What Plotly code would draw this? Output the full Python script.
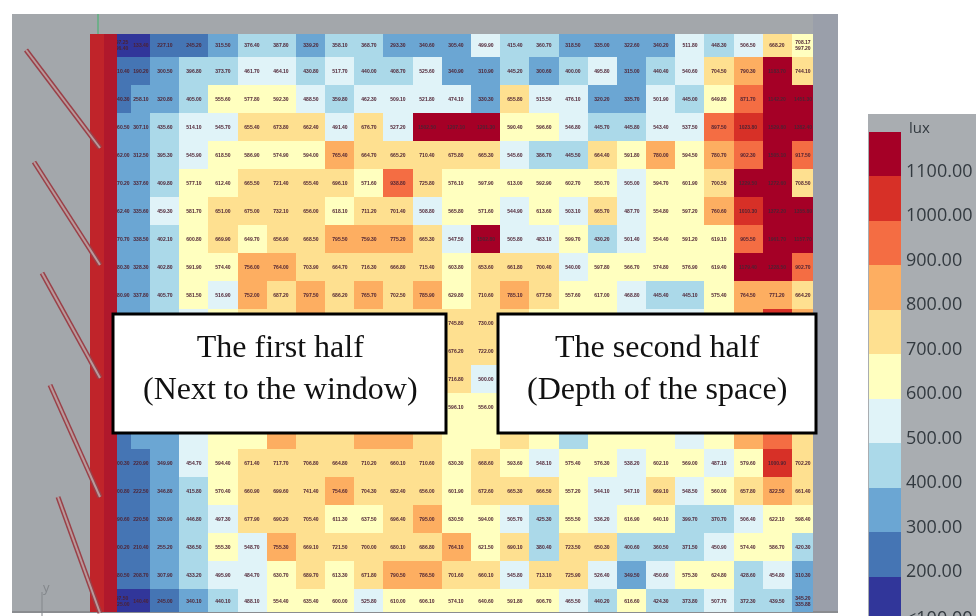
import numpy as np
import plotly.graph_objects as go

W, H = 976, 616

# illuminance grid (lux): rows run away from the top wall, columns run away from the window
row_00 = [97.25,133.4,227.1,245.2,315.5,376.4,387.8,339.2,358.1,368.7,293.3,340.6,305.4,499.9,415.4,360.7,318.5,335.0,322.6,340.2,511.8,448.3,506.5,668.2,597.2]
row_01 = [210.4,190.2,300.5,396.8,373.7,461.7,464.1,430.8,517.7,440.0,408.7,525.6,340.9,310.9,445.2,300.6,400.0,495.8,315.0,440.4,540.6,704.5,790.3,1183.7,744.1]
row_02 = [240.3,258.1,320.8,405.0,555.6,577.8,592.3,488.5,359.8,462.3,509.1,521.8,474.1,330.3,655.8,515.5,476.1,320.2,335.7,501.9,445.0,649.8,871.7,1142.2,1451.3]
row_03 = [260.5,307.1,435.6,514.1,545.7,655.4,673.8,662.4,491.4,676.7,527.2,1502.5,1207.1,1201.3,590.4,596.6,546.8,445.7,445.8,543.4,537.5,897.5,1023.8,1529.8,1382.4]
row_04 = [262.0,312.5,395.3,545.9,618.5,586.9,574.9,594.0,765.4,664.7,665.2,710.4,675.8,665.3,545.6,386.7,445.5,664.4,591.8,780.0,594.5,780.7,902.3,1505.1,917.5]
row_05 = [270.2,337.6,409.8,577.1,612.4,665.5,721.4,655.4,696.1,571.6,938.8,725.8,576.1,597.9,613.0,592.9,602.7,550.7,505.0,594.7,601.9,700.5,1229.5,1272.6,708.5]
row_06 = [262.4,335.6,459.3,581.7,651.0,675.0,732.1,656.0,618.1,711.2,701.4,508.8,565.8,571.6,544.9,613.6,503.1,665.7,487.7,554.8,597.2,760.6,1010.3,1372.2,1355.8]
row_07 = [270.7,338.5,402.1,600.8,669.9,649.7,656.9,668.5,795.5,759.3,775.2,665.3,547.5,1502.8,505.8,483.1,599.7,430.2,501.4,554.4,591.2,619.1,905.5,1961.7,1157.7]
row_08 = [280.3,328.3,402.8,591.9,574.4,756.0,764.0,703.9,664.7,716.3,666.8,715.4,603.8,653.6,661.8,700.4,540.0,597.8,566.7,574.8,576.9,619.4,1179.4,1228.5,902.7]
row_09 = [280.9,337.8,405.7,581.5,516.9,752.0,687.2,797.5,686.2,765.7,702.5,785.9,629.8,710.6,785.1,677.5,557.6,617.0,468.8,445.4,445.1,575.4,764.5,771.2,664.2]
row_10 = [250.0,300.0,390.0,500.0,600.0,720.0,690.0,760.0,700.0,720.0,680.0,700.0,745.8,730.0,700.0,640.0,560.0,600.0,520.0,500.0,520.0,620.0,800.0,1020.0,800.0]
row_11 = [240.0,290.0,380.0,490.0,600.0,700.0,710.0,740.0,720.0,700.0,690.0,690.0,676.2,722.0,690.0,620.0,570.0,590.0,540.0,520.0,530.0,610.0,780.0,950.0,760.0]
row_12 = [230.0,280.0,370.0,480.0,590.0,680.0,720.0,720.0,700.0,710.0,700.0,680.0,716.8,500.0,650.0,610.0,580.0,600.0,560.0,530.0,540.0,600.0,760.0,900.0,720.0]
row_13 = [220.0,270.0,350.0,475.0,590.0,660.0,760.0,710.0,700.0,760.0,740.0,670.0,596.1,556.0,660.0,610.0,500.0,590.0,580.0,560.0,530.0,600.0,770.0,900.0,700.0]
row_14 = [210.0,260.0,330.0,470.0,590.0,640.0,790.0,700.0,700.0,800.0,760.0,680.0,611.5,552.0,680.0,610.0,420.0,560.0,590.0,610.0,510.0,610.0,780.0,900.0,690.0]
row_15 = [200.3,220.9,349.9,454.7,594.4,671.4,717.7,706.8,664.8,710.2,660.1,710.6,630.3,668.6,593.6,548.1,575.4,576.3,538.2,602.1,569.0,487.1,579.6,1000.9,702.2]
row_16 = [200.8,222.5,346.8,415.8,570.4,660.9,699.6,741.4,754.6,704.3,682.4,656.0,601.9,672.6,665.3,666.5,557.2,544.1,547.1,669.1,548.5,560.0,657.8,822.5,661.4]
row_17 = [190.6,220.5,330.9,446.8,497.3,677.9,690.2,705.4,611.3,637.5,696.4,795.0,630.5,594.0,505.7,425.3,555.5,536.2,616.9,640.1,399.7,370.7,506.4,622.1,598.4]
row_18 = [200.2,210.4,255.2,436.5,555.3,548.7,755.3,669.1,721.5,700.0,680.1,686.8,764.1,621.5,690.1,380.4,723.5,650.3,400.6,360.5,371.5,450.9,574.4,586.7,420.3]
row_19 = [180.5,208.7,307.9,433.2,495.9,484.7,630.7,689.7,613.3,671.8,790.5,786.5,701.6,660.1,545.8,713.1,725.9,526.4,349.5,450.6,575.3,624.8,428.6,454.8,310.3]
row_20 = [125.0,140.4,245.0,340.1,440.1,488.1,554.4,635.4,600.0,525.8,610.0,606.1,574.1,640.6,591.8,606.7,465.5,440.2,616.6,424.3,373.8,507.7,372.3,439.5,345.2]
z_rows = [row_00,row_01,row_02,row_03,row_04,row_05,row_06,row_07,row_08,row_09,row_10,
          row_11,row_12,row_13,row_14,row_15,row_16,row_17,row_18,row_19,row_20]

# sensor grid spacing
col_spacing = [0.62, 0.65] + [1.0] * 22 + [0.72]
row_spacing = [0.82] + [1.0] * 19 + [0.82]

# rows whose labels sit behind the two text boxes, and the two columns left visible between them
covered_rows = [10, 11, 12, 13, 14]
gap_cols = [12, 13]

# the corner sensors carry two stacked readings
corner_labels = {(0, 0): "97.25<br>96.40", (0, 24): "708.17<br>597.20",
                 (20, 0): "97.50<br>125.00", (20, 24): "345.20<br>335.88"}

# legend
legend_values = [100, 200, 300, 400, 500, 600, 700, 800, 900, 1000, 1100]
legend_colors = ["#31369a", "#4575b4", "#6ba6d3", "#abd9e9", "#e0f3f8", "#ffffbf",
                 "#fee090", "#fdae61", "#f46d43", "#d73027", "#a50026"]
legend_labels = ["<100.00", "200.00", "300.00", "400.00", "500.00", "600.00",
                 "700.00", "800.00", "900.00", "1000.00", "1100.00"]

z = np.array(z_rows)
labels = [[f"{v:.2f}" for v in r] for r in z_rows]
for r in covered_rows:
    for c in range(len(labels[r])):
        if c not in gap_cols or r == 14:
            labels[r][c] = ""
for (r, c), t in corner_labels.items():
    labels[r][c] = t
x_edges = np.concatenate([[0], np.cumsum(col_spacing)])
y_edges = np.concatenate([[0], np.cumsum(row_spacing)])

n = len(legend_colors)
colorscale = []
for i, c in enumerate(legend_colors):
    colorscale += [[i / n, c], [(i + 1) / n, c]]

def px(x): return x / W
def py(y): return 1 - y / H

fig = go.Figure()
fig.add_trace(go.Heatmap(
    z=z, x=x_edges, y=y_edges, colorscale=colorscale, zmin=50, zmax=1150,
    showscale=False, text=labels, texttemplate="%{text}",
    textfont=dict(size=5, family="Liberation Sans", color="#4e2233", weight="bold"), hoverinfo="skip",
    xaxis="x", yaxis="y"))
leg_idx = list(range(n))
fig.add_trace(go.Heatmap(
    z=[[v] for v in legend_values], y=leg_idx, x=[0], colorscale=colorscale, zmin=50, zmax=1150,
    showscale=False, hoverinfo="skip", xaxis="x2", yaxis="y2"))

def seg(a, b, **kw):
    return dict(type="line", xref="paper", yref="paper",
                x0=px(a[0]), y0=py(a[1]), x1=px(b[0]), y1=py(b[1]), **kw)
def rect(x0, y0, x1, y1, fill, line=None, lw=0, layer="above"):
    return dict(type="rect", xref="paper", yref="paper", x0=px(x0), y0=py(y0), x1=px(x1), y1=py(y1),
                fillcolor=fill, line=dict(color=line or fill, width=lw), layer=layer)

PANEL = "#a3a7ab"
shapes = [
    rect(12, 14, 838, 612, PANEL, layer="below"),
    rect(813, 14, 838, 612, "#9a9faa", layer="below"),
    rect(868, 114, 976, 616, "#a9adb1", layer="below"),
    seg((12, 612), (838, 612), line=dict(color="#8a8c90", width=2), layer="below"),
    seg((98, 14), (98, 34), line=dict(color="#6fae8a", width=2), layer="below"),
    seg((42, 592), (42, 616), line=dict(color="#83878b", width=1), layer="below"),
    rect(90, 34, 104, 612, "#c0242a"),
    rect(104, 34, 117, 612, "#b0182c"),
]
louvers = [((26, 50), (100, 148)), ((34, 162), (100, 265)), ((42, 273), (100, 378)),
           ((50, 385), (100, 497)), ((58, 497), (100, 613))]
for a, b in louvers:
    shapes.append(seg(a, b, line=dict(color="#9a4048", width=5), layer="above"))
    shapes.append(seg(a, b, line=dict(color="#b89a9c", width=2), layer="above"))
shapes += [
    rect(113, 314, 446, 433, "#ffffff", "#000000", 3),
    rect(498, 314, 816, 433, "#ffffff", "#000000", 3),
]

serif = dict(family="Liberation Serif", size=32, color="#111111")
annotations = [
    dict(x=px(280), y=py(367), xref="paper", yref="paper", text="The first half<br>(Next to the window)",
         showarrow=False, font=serif, xanchor="center", yanchor="middle"),
    dict(x=px(657), y=py(367), xref="paper", yref="paper", text="The second half<br>(Depth of the space)",
         showarrow=False, font=serif, xanchor="center", yanchor="middle"),
    dict(x=px(907), y=py(127), xref="paper", yref="paper", text="lux", showarrow=False, xanchor="left",
         yanchor="middle", font=dict(family="Open Sans", size=15, color="#333a40")),
    dict(x=px(46), y=py(587), xref="paper", yref="paper", text="y", showarrow=False, xanchor="center",
         yanchor="middle", font=dict(family="Open Sans", size=13, color="#83878b")),
    dict(x=px(907), y=py(617), xref="paper", yref="paper", text=legend_labels[0], showarrow=False,
         xanchor="left", yanchor="middle", xshift=-3, font=dict(family="Open Sans", size=18, color="#333a40")),
]

fig.update_layout(
    width=W, height=H, margin=dict(l=0, r=0, t=0, b=0), paper_bgcolor="#ffffff", plot_bgcolor="rgba(0,0,0,0)",
    showlegend=False, shapes=shapes, annotations=annotations,
    xaxis=dict(domain=[px(113), px(813)], range=[x_edges[0], x_edges[-1]], visible=False),
    yaxis=dict(domain=[py(612), py(34)], range=[y_edges[-1], y_edges[0]], visible=False),
    xaxis2=dict(domain=[px(869), px(901)], range=[-0.5, 0.5], visible=False, anchor="y2"),
    yaxis2=dict(domain=[py(616), py(132)], range=[-0.39, n - 0.5], anchor="x2", side="right",
                tickmode="array", tickvals=[i - 0.37 for i in leg_idx[1:]], ticktext=legend_labels[1:],
                ticks="", showgrid=False, zeroline=False, showline=False, ticklabelstandoff=4,
                tickfont=dict(family="Open Sans", size=18, color="#333a40")),
)
fig.write_html("out.html", config=dict(displayModeBar=False),
               post_script="document.body.style.margin='0';document.body.style.overflow='hidden';"
                           "document.querySelector('.plotly-graph-div').style.filter='blur(0.5px)';")
